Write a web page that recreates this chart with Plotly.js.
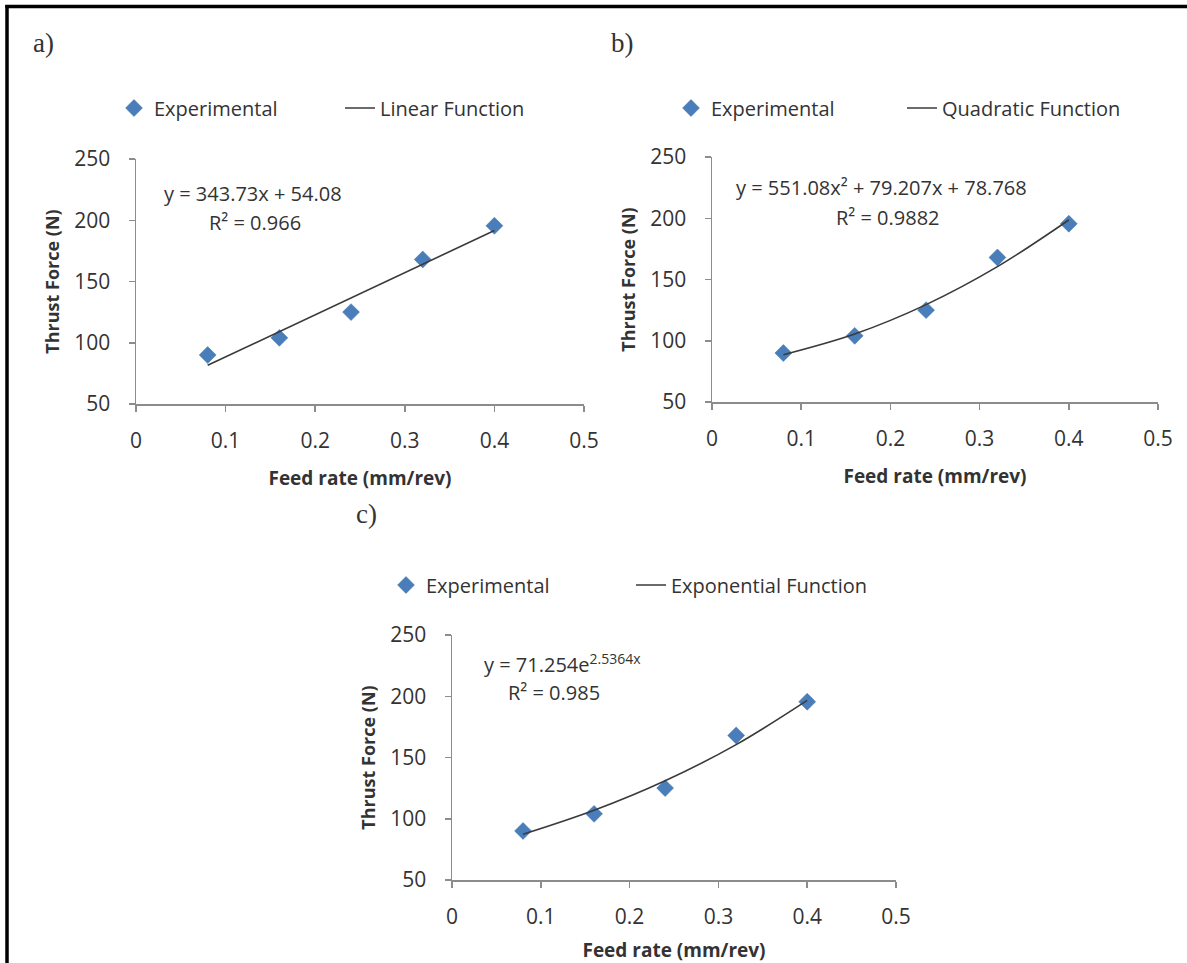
<!DOCTYPE html>
<html>
<head>
<meta charset="utf-8">
<script src="https://cdn.plot.ly/plotly-3.0.1.min.js"></script>
<style>html,body{margin:0;padding:0;background:#fff;}#chart{width:1187px;height:963px;}</style>
</head>
<body>
<div id="chart"></div>
<script>
// ---- data ----
const feedRate = [0.08, 0.16, 0.24, 0.32, 0.40];
const thrustExperimental = [90, 104, 125, 168, 195.5];
const linearFit = [81.6, 109.1, 136.6, 164.1, 191.6];
const quadraticFit = [88.6, 105.5, 129.5, 160.5, 198.6];
const exponentialFit = [87.3, 106.9, 131.0, 160.5, 196.6];
const panelLabels = ["a)", "b)", "c)"];
const fitNames = ["Linear Function", "Quadratic Function", "Exponential Function"];
const equations = ["y = 343.73x + 54.08", "y = 551.08x² + 79.207x + 78.768", "y = 71.254e<sup>2.5364x</sup>"];
const rSquared = ["R² = 0.966", "R² = 0.9882", "R² = 0.985"];
const xTicks = [0, 0.1, 0.2, 0.3, 0.4, 0.5];
const yTicks = [50, 100, 150, 200, 250];

const W = 1187, H = 963;
const px = v => v / W;
const py = v => 1 - v / H;

const FONT = "'Open Sans', Lato, sans-serif";
const blue = "#4A7EBB";
const lineCol = "#3a3a3a";
const axisCol = "#8c8c8c";
const textCol = "#333";

// panel geometry in pixels: [xLeft, xRight, yTop, yBottom]
const panels = [
  [136, 584, 159, 404],
  [712, 1158, 157, 402],
  [452, 896, 635, 880]
];
const fits = [linearFit, quadraticFit, exponentialFit];
const legendNames = ["legend", "legend2", "legend3"];

const traces = [];
const layout = {
  width: W, height: H,
  margin: {l: 0, r: 0, t: 0, b: 0},
  paper_bgcolor: "#fff",
  plot_bgcolor: "rgba(0,0,0,0)",
  font: {family: FONT, color: textCol},
  annotations: [],
  shapes: [
    {type: "line", xref: "paper", yref: "paper", x0: px(7), x1: px(7), y0: py(5), y1: py(963), line: {color: "#000", width: 3.5}},
    {type: "line", xref: "paper", yref: "paper", x0: px(5.3), x1: px(1187), y0: py(6.5), y1: py(6.5), line: {color: "#000", width: 3.5}}
  ]
};

const legendPos = [[114, 108], [671, 108], [386, 585]];
const legendEntryW = [181, 186, 200];
const eqPos = [[162, 193, 207, 222], [734, 188, 834, 218], [482, 663, 506, 692]];
const labelPos = [[43, 43], [622, 43], [366, 514]];

panels.forEach((p, i) => {
  const n = i === 0 ? "" : String(i + 1);
  const xa = "x" + n, ya = "y" + n;
  traces.push({
    x: feedRate, y: thrustExperimental, xaxis: xa, yaxis: ya,
    type: "scatter", mode: "markers", name: "Experimental",
    marker: {symbol: "diamond", size: 13, color: blue, line: {width: 0.5, color: "#3d6fa8"}},
    legend: legendNames[i], cliponaxis: false
  });
  traces.push({
    x: feedRate, y: fits[i], xaxis: xa, yaxis: ya,
    type: "scatter", mode: "lines", name: fitNames[i],
    line: {color: lineCol, width: 1.6, shape: i === 0 ? "linear" : "spline"},
    legend: legendNames[i]
  });
  layout["xaxis" + n] = {
    domain: [px(p[0]), px(p[1])], anchor: ya, range: [0, 0.5],
    tickvals: xTicks, ticktext: xTicks.map(String),
    showline: true, linecolor: axisCol, linewidth: 1.5,
    ticks: "outside", ticklen: 6, tickcolor: axisCol, tickwidth: 1.5,
    showgrid: false, zeroline: false, fixedrange: true,
    tickfont: {family: FONT, size: 21, color: textCol},
    ticklabelstandoff: 11,
    title: {text: "Feed rate (mm/rev)", font: {family: FONT, size: 19, color: textCol, weight: "bold"}, standoff: 19}
  };
  layout["yaxis" + n] = {
    domain: [py(p[3]), py(p[2])], anchor: xa, range: [50, 250],
    tickvals: yTicks,
    showline: true, linecolor: axisCol, linewidth: 1.5,
    ticks: "outside", ticklen: 6, tickcolor: axisCol, tickwidth: 1.5,
    showgrid: false, zeroline: false, fixedrange: true,
    tickfont: {family: FONT, size: 21, color: textCol},
    ticklabelstandoff: 14,
    title: {text: "Thrust Force (N)", font: {family: FONT, size: 18, color: textCol, weight: "bold"}, standoff: 10}
  };
  layout[legendNames[i]] = {
    orientation: "h", x: px(legendPos[i][0]), y: py(legendPos[i][1]),
    xanchor: "left", yanchor: "middle",
    font: {family: FONT, size: 20, color: textCol},
    bgcolor: "rgba(0,0,0,0)", borderwidth: 0,
    entrywidth: legendEntryW[i], entrywidthmode: "pixels"
  };
  layout.annotations.push({
    xref: "paper", yref: "paper", x: px(eqPos[i][0]), y: py(eqPos[i][1]),
    xanchor: "left", yanchor: "middle", showarrow: false,
    text: equations[i], font: {family: FONT, size: 20, color: textCol}
  });
  layout.annotations.push({
    xref: "paper", yref: "paper", x: px(eqPos[i][2]), y: py(eqPos[i][3]),
    xanchor: "left", yanchor: "middle", showarrow: false,
    text: rSquared[i], font: {family: FONT, size: 20, color: textCol}
  });
  layout.annotations.push({
    xref: "paper", yref: "paper", x: px(labelPos[i][0]), y: py(labelPos[i][1]),
    xanchor: "center", yanchor: "middle", showarrow: false,
    text: panelLabels[i], font: {family: "'Liberation Serif', 'DejaVu Serif', serif", size: 27, color: textCol}
  });
});

Plotly.newPlot("chart", traces, layout, {displayModeBar: false, staticPlot: true});
</script>
</body>
</html>
